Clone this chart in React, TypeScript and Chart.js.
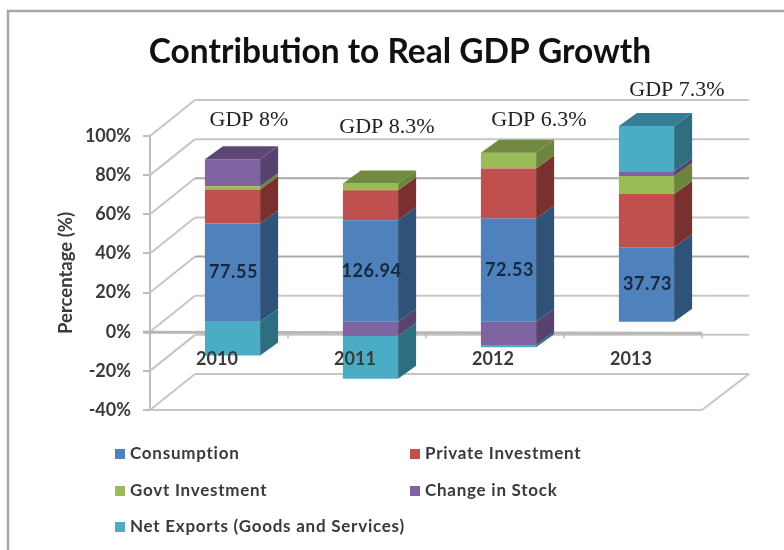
import React, { useEffect, useRef } from "react";
import { Chart, registerables } from "chart.js";

Chart.register(...registerables);

const categories = ["2010", "2011", "2012", "2013"];
const consumption = [50.2, 51.9, 52.8, 38];
const privateInvestment = [17.3, 15.3, 25.5, 27.2];
const govtInvestment = [1.7, 3.4, 8, 9.2];
const changeInStock = [13.8, -7.3, -11.9, 2.5];
const netExports = [-17.3, -21.9, -1.1, 23.1];
const consumptionLabels = ["77.55", "126.94", "72.53", "37.73"];
const gdpLabels = ["GDP 8%", "GDP 8.3%", "GDP 6.3%", "GDP 7.3%"];
const gdpAnchors = [[249, 120], [387, 127], [539, 120], [677, 90]];
const yTicks = [100, 80, 60, 40, 20, 0, -20, -40];

const seriesStyles = [
  { label: "Consumption", data: consumption, front: "#4F81BD", side: "#2F5279", top: "#3A6394" },
  { label: "Private Investment", data: privateInvestment, front: "#C0504D", side: "#7A302E", top: "#8F3B39" },
  { label: "Govt Investment", data: govtInvestment, front: "#9BBB59", side: "#6B853C", top: "#72893F" },
  { label: "Change in Stock", data: changeInStock, front: "#8064A2", side: "#584370", top: "#5C4775" },
  { label: "Net Exports (Goods and Services)", data: netExports, front: "#4BACC6", side: "#2D6E80", top: "#357F95" },
];

const SANS = "Lato, 'Open Sans', sans-serif";
const INK = "#3A3A3A";
const BLUR = "blur(0.7px)";
const WALL_DX = 46;
const WALL_DY = -36;
const BAR_DX = 13.5;
const BAR_DY = -10;
const SIDE_DX = 18;
const SIDE_DY = -13;

function poly(ctx: CanvasRenderingContext2D, pts: number[][], color: string) {
  ctx.fillStyle = color;
  ctx.beginPath();
  pts.forEach((p, i) => (i ? ctx.lineTo(p[0], p[1]) : ctx.moveTo(p[0], p[1])));
  ctx.closePath();
  ctx.fill();
}

function line(ctx: CanvasRenderingContext2D, x1: number, y1: number, x2: number, y2: number, color: string, w: number) {
  ctx.strokeStyle = color;
  ctx.lineWidth = w;
  ctx.beginPath();
  ctx.moveTo(x1, y1);
  ctx.lineTo(x2, y2);
  ctx.stroke();
}

const depthPlugin = {
  id: "depth3d",
  afterLayout(chart: any) {
    if (chart.titleBlock) {
      chart.titleBlock.left = 16;
      chart.titleBlock.right = 784;
    }
  },
  beforeDraw(chart: any) {
    const ctx = chart.ctx;
    ctx.filter = BLUR;
    line(ctx, 8, 10, 8, 550, "#A8A8A8", 2.5);
    line(ctx, 7, 11, 784, 11, "#A8A8A8", 2.5);
  },
  beforeDatasetsDraw(chart: any) {
    const ctx = chart.ctx;
    const { left, right, bottom } = chart.chartArea;
    const yScale = chart.scales.y;
    yTicks.forEach((t) => {
      const y = yScale.getPixelForValue(t);
      const dark = t === 60 || t === 20;
      line(ctx, left + WALL_DX - 1, y + WALL_DY, right + WALL_DX + 1, y + WALL_DY, dark ? "#A9A9A9" : "#C6C6C6", 2);
      line(ctx, left, y, left + WALL_DX - 1, y + WALL_DY, "#C6C6C6", 2);
    });
    line(ctx, left, bottom, right, bottom, "#C6C6C6", 2);
    line(ctx, right, bottom, right + WALL_DX + 1, bottom + WALL_DY, "#C6C6C6", 2);
    const zero = yScale.getPixelForValue(0) + 1.5;
    line(ctx, left - 7, zero - 1, right, zero, "#B8B8B8", 3);
    categories.forEach((_, i) => {
      const x = left + ((right - left) * (i + 1)) / categories.length;
      line(ctx, x, zero, x, zero + 5, "#B8B8B8", 1.5);
    });
    ctx.save();
    ctx.filter = "none";
    ctx.translate(BAR_DX, BAR_DY);
  },
  afterDatasetsDraw(chart: any) {
    const ctx = chart.ctx;
    categories.forEach((_, i) => {
      let topIndex = -1;
      seriesStyles.forEach((s, d) => {
        if (s.data[i] > 0) topIndex = d;
      });
      seriesStyles.forEach((s, d) => {
        const bar = chart.getDatasetMeta(d).data[i];
        const r = bar.x + bar.width / 2;
        const l = bar.x - bar.width / 2;
        const top = Math.min(bar.y, bar.base);
        const low = Math.max(bar.y, bar.base);
        poly(ctx, [[r, top], [r + SIDE_DX, top + SIDE_DY], [r + SIDE_DX, low + SIDE_DY], [r, low]], s.side);
        if (d === topIndex) {
          poly(ctx, [[l, top], [l + SIDE_DX, top + SIDE_DY], [r + SIDE_DX, top + SIDE_DY], [r, top]], s.top);
        }
      });
    });
    ctx.filter = BLUR;
    ctx.fillStyle = "#17283D";
    ctx.font = `bold 18px ${SANS}`;
    ctx.letterSpacing = "0.6px";
    ctx.textAlign = "center";
    ctx.textBaseline = "middle";
    categories.forEach((_, i) => {
      const blue = chart.getDatasetMeta(0).data[i];
      ctx.fillText(consumptionLabels[i], blue.x + 1, (blue.y + blue.base) / 2);
    });
    ctx.letterSpacing = "0px";
    ctx.restore();
  },
  afterDraw(chart: any) {
    const ctx = chart.ctx;
    ctx.font = `bold 17px ${SANS}`;
    ctx.letterSpacing = "0.75px";
    ctx.textAlign = "left";
    ctx.textBaseline = "middle";
    const columns = [115, 410];
    const rows = [454, 491, 527];
    seriesStyles.forEach((s, i) => {
      const x = columns[i % 2];
      const y = rows[Math.floor(i / 2)];
      ctx.fillStyle = s.front;
      ctx.fillRect(x, y - 5, 10, 10);
      ctx.fillStyle = INK;
      ctx.fillText(s.label, x + 15, y);
    });
    ctx.letterSpacing = "0px";
    ctx.filter = "none";
    ctx.fillStyle = "#222222";
    ctx.font = "22px 'Liberation Serif', serif";
    ctx.textAlign = "center";
    gdpLabels.forEach((t, i) => ctx.fillText(t, gdpAnchors[i][0], gdpAnchors[i][1]));
  },
};

export default function App() {
  const ref = useRef<HTMLCanvasElement | null>(null);
  useEffect(() => {
    document.body.style.margin = "0";
    const chart = new Chart(ref.current as HTMLCanvasElement, {
      type: "bar",
      data: {
        labels: categories,
        datasets: seriesStyles.map((s) => ({
          label: s.label,
          data: s.data,
          backgroundColor: s.front,
          borderWidth: 0,
          clip: false as any,
          categoryPercentage: 1,
          barPercentage: 0.4,
        })),
      },
      options: {
        animation: false,
        responsive: false,
        layout: { padding: { top: 0, left: 0, right: 82, bottom: 140 } },
        plugins: {
          legend: { display: false },
          tooltip: { enabled: false },
          title: {
            display: true,
            text: "Contribution to Real GDP Growth",
            color: "#111111",
            font: { family: SANS, size: 33.5, weight: "bold", lineHeight: 1.2 },
            padding: { top: 32, bottom: 63.8 },
          },
        },
        scales: {
          x: {
            stacked: true,
            position: { y: 0 } as any,
            grid: { display: false },
            border: { display: false },
            ticks: { z: 2, color: INK, font: { family: SANS, size: 18, weight: "bold" }, padding: 9, labelOffset: -2, maxRotation: 0 },
          },
          y: {
            stacked: true,
            min: -40,
            max: 100,
            afterFit: (scale: any) => {
              scale.width = 150;
            },
            grid: {
              drawOnChartArea: false,
              drawTicks: true,
              tickLength: 7,
              color: "#BDBDBD",
              lineWidth: (c: any) => (c.tick && c.tick.value === 0 ? 0 : 2),
            },
            border: { color: "#BDBDBD", width: 2 },
            ticks: { stepSize: 20, color: INK, padding: 12, font: { family: SANS, size: 18, weight: "bold" }, callback: (v: any) => `${v}%` },
            title: { display: true, text: "Percentage (%)", color: INK, font: { family: SANS, size: 18.5, weight: "bold" }, padding: { top: 55, bottom: 0 } },
          },
        },
      },
      plugins: [depthPlugin],
    });
    return () => chart.destroy();
  }, []);
  return <canvas ref={ref} width={784} height={550} style={{ display: "block" }} />;
}
